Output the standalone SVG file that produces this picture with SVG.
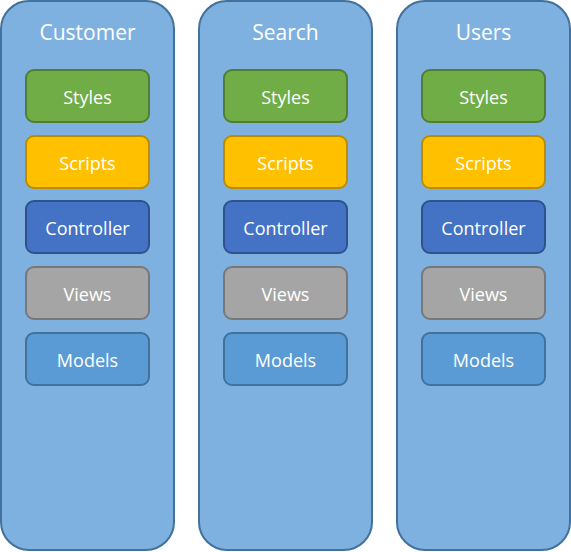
<svg xmlns="http://www.w3.org/2000/svg" width="571" height="552" viewBox="0 0 571 552">
<style>
.col{fill:#7FB1E0;stroke:#41719C;stroke-width:2}
.title{font-family:"Open Sans","Liberation Sans",Arial,sans-serif;font-size:21px;fill:#fff;text-anchor:middle}
.lbl{font-family:"Open Sans","Liberation Sans",Arial,sans-serif;font-size:18px;fill:#fff;text-anchor:middle}
.box{stroke-width:2}
.styles{fill:#70AD47;stroke:#507E32}
.scripts{fill:#FFC000;stroke:#BC8C00}
.ctrl{fill:#4472C4;stroke:#2F528F}
.views{fill:#A5A5A5;stroke:#787878}
.models{fill:#5B9BD5;stroke:#41719C}
</style>
<rect width="571" height="552" fill="#fff"/>
<g id="customer">
<rect class="col" x="1" y="1" width="173" height="549" rx="28"/>
<text class="title" x="87.5" y="40">Customer</text>
</g>
<g id="search">
<rect class="col" x="199" y="1" width="173" height="549" rx="28"/>
<text class="title" x="285.5" y="40">Search</text>
</g>
<g id="users">
<rect class="col" x="397" y="1" width="173" height="549" rx="28"/>
<text class="title" x="483.5" y="40">Users</text>
</g>
<g id="customer-styles"><rect class="box styles" x="26" y="70" width="123" height="52" rx="8"/><text class="lbl" x="87.5" y="104">Styles</text></g>
<g id="customer-scripts"><rect class="box scripts" x="26" y="136" width="123" height="52" rx="8"/><text class="lbl" x="87.5" y="169.5">Scripts</text></g>
<g id="customer-controller"><rect class="box ctrl" x="26" y="201" width="123" height="52" rx="8"/><text class="lbl" x="87.5" y="235">Controller</text></g>
<g id="customer-views"><rect class="box views" x="26" y="267" width="123" height="52" rx="8"/><text class="lbl" x="87.5" y="301">Views</text></g>
<g id="customer-models"><rect class="box models" x="26" y="333" width="123" height="52" rx="8"/><text class="lbl" x="87.5" y="366.5">Models</text></g>
<g id="search-styles"><rect class="box styles" x="224" y="70" width="123" height="52" rx="8"/><text class="lbl" x="285.5" y="104">Styles</text></g>
<g id="search-scripts"><rect class="box scripts" x="224" y="136" width="123" height="52" rx="8"/><text class="lbl" x="285.5" y="169.5">Scripts</text></g>
<g id="search-controller"><rect class="box ctrl" x="224" y="201" width="123" height="52" rx="8"/><text class="lbl" x="285.5" y="235">Controller</text></g>
<g id="search-views"><rect class="box views" x="224" y="267" width="123" height="52" rx="8"/><text class="lbl" x="285.5" y="301">Views</text></g>
<g id="search-models"><rect class="box models" x="224" y="333" width="123" height="52" rx="8"/><text class="lbl" x="285.5" y="366.5">Models</text></g>
<g id="users-styles"><rect class="box styles" x="422" y="70" width="123" height="52" rx="8"/><text class="lbl" x="483.5" y="104">Styles</text></g>
<g id="users-scripts"><rect class="box scripts" x="422" y="136" width="123" height="52" rx="8"/><text class="lbl" x="483.5" y="169.5">Scripts</text></g>
<g id="users-controller"><rect class="box ctrl" x="422" y="201" width="123" height="52" rx="8"/><text class="lbl" x="483.5" y="235">Controller</text></g>
<g id="users-views"><rect class="box views" x="422" y="267" width="123" height="52" rx="8"/><text class="lbl" x="483.5" y="301">Views</text></g>
<g id="users-models"><rect class="box models" x="422" y="333" width="123" height="52" rx="8"/><text class="lbl" x="483.5" y="366.5">Models</text></g>
<g id="connectors"/>
</svg>
